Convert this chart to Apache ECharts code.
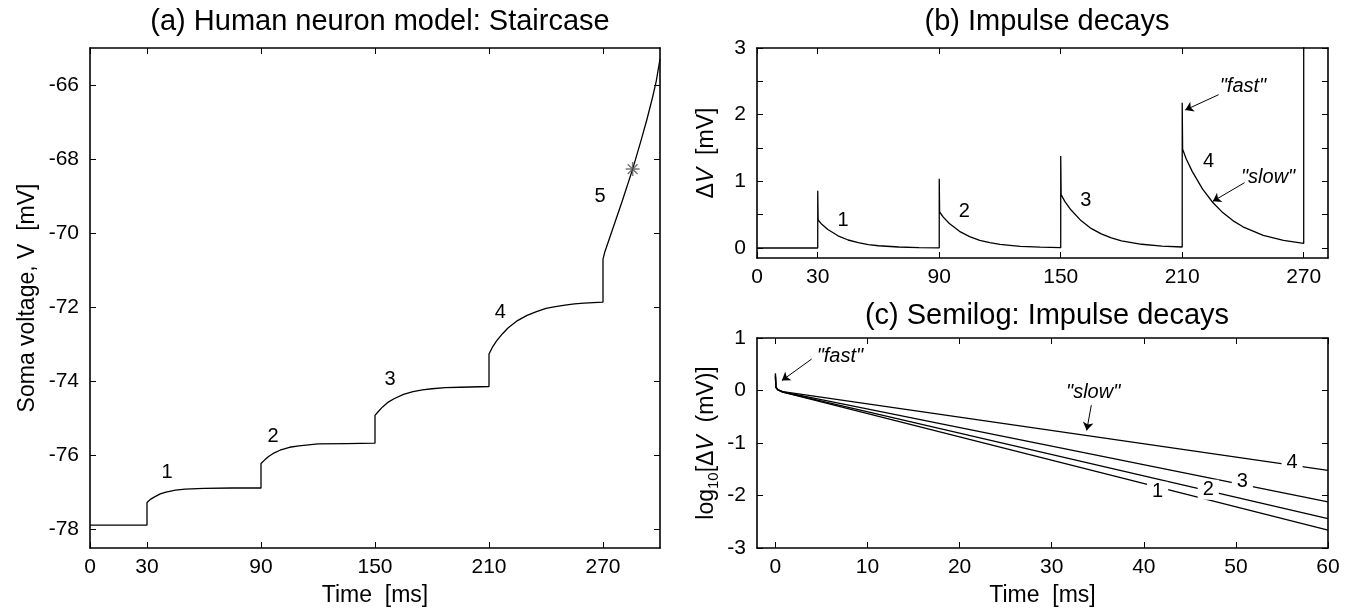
<!DOCTYPE html>
<html>
<head>
<meta charset="utf-8">
<title>Staircase and impulse decays</title>
<script src="https://cdn.jsdelivr.net/npm/echarts@6/dist/echarts.min.js"></script>
<style>
html, body { margin: 0; padding: 0; background: #fff; }
#chart { width: 1349px; height: 612px; }
</style>
</head>
<body>
<div id="chart"></div>
<script>
// (a) staircase: time [ms] / soma voltage [mV]
const stairT = [0, 30,
  30, 32, 34, 37, 40, 45, 50, 60, 75, 90,
  90, 92, 94, 97, 100, 105, 110, 120, 135, 150,
  150, 152, 154, 157, 160, 165, 170, 175, 180, 187, 195, 210,
  210, 212, 214, 217, 220, 225, 230, 235, 240, 245, 250, 255, 260, 270,
  270, 271, 275, 280, 285.6, 290, 293, 296, 298, 300]
const stairV = [-77.88, -77.88,
  -77.27, -77.18, -77.12, -77.04, -76.99, -76.94, -76.91, -76.89, -76.88, -76.88,
  -76.22, -76.12, -76.03, -75.93, -75.86, -75.78, -75.74, -75.69, -75.68, -75.67,
  -74.92, -74.80, -74.69, -74.56, -74.47, -74.35, -74.28, -74.23, -74.20, -74.17, -74.16, -74.14,
  -73.26, -73.06, -72.91, -72.72, -72.56, -72.36, -72.22, -72.12, -72.03, -71.98, -71.94, -71.91, -71.89, -71.86,
  -70.70, -70.50, -69.90, -69.15, -68.27, -67.50, -66.95, -66.35, -65.90, -65.30]
const starPoint = [285.6, -68.27]
const stairLabels = [[40.6, -76.45, '1'], [96.4, -75.48, '2'], [157.9, -73.94, '3'], [216, -72.14, '4'], [268.4, -69.0, '5']]
const stairTicksX = [0, 30, 90, 150, 210, 270]
const stairTicksY = [-78, -76, -74, -72, -70, -68, -66]

// (b) impulse decays: time [ms] / delta V [mV]
const decayT = [0, 30, 30, 30.2, 32, 35, 40, 45, 50, 55, 60, 70, 80, 90,
  90, 90.2, 92, 95, 100, 105, 110, 115, 120, 130, 140, 150,
  150, 150.2, 152, 155, 160, 165, 170, 175, 180, 190, 200, 210,
  210, 210.2, 212, 215, 220, 225, 230, 235, 240, 250, 260, 270, 270]
const decayV = [0, 0, 0.86, 0.42, 0.355, 0.277, 0.183, 0.120, 0.079, 0.052, 0.034, 0.015, 0.007, 0.003,
  1.04, 0.54, 0.463, 0.368, 0.250, 0.170, 0.116, 0.079, 0.054, 0.025, 0.012, 0.005,
  1.38, 0.80, 0.700, 0.573, 0.411, 0.294, 0.211, 0.151, 0.108, 0.056, 0.029, 0.015,
  2.18, 1.48, 1.336, 1.146, 0.886, 0.686, 0.531, 0.411, 0.318, 0.190, 0.114, 0.068, 3.5]
const decayLabels = [[42.5, 0.42, '1'], [102.4, 0.555, '2'], [162.4, 0.72, '3'], [223, 1.30, '4']]
const decayNotes = [[240, 2.43, '"fast"'], [252.4, 1.06, '"slow"']]
const decayArrows = [[228, 2.30, 211.5, 2.07], [240.8, 0.98, 225.1, 0.70]]
const decayTicksX = [0, 30, 90, 150, 210, 270]
const decayTicksY = [0, 0.5, 1, 1.5, 2, 2.5, 3]
const decayLabelsY = [0, 1, 2, 3]

// (c) semilog decays: time [ms] / log10 delta V
const semiT = [0, 0.05, 0.3, 0.8, 60]
const semi1 = [0.31, 0.06, 0.01, -0.03, -2.66]
const semi2 = [0.28, 0.06, 0.01, -0.03, -2.44]
const semi3 = [0.25, 0.06, 0.01, -0.025, -2.12]
const semi4 = [0.33, 0.06, 0.01, -0.02, -1.52]
const semiLabels = [[41.5, -1.93, '1'], [47, -1.89, '2'], [50.7, -1.73, '3'], [56.1, -1.38, '4']]
const semiNotes = [[7.0, 0.64, '"fast"'], [34.5, -0.03, '"slow"']]
const semiArrows = [[4.1, 0.62, 0.7, 0.19], [34.3, -0.28, 33.8, -0.76]]
const semiTicksX = [0, 10, 20, 30, 40, 50, 60]
const semiTicksY = [-3, -2, -1, 0, 1]

const font = "'Liberation Sans', Arial, Helvetica, sans-serif"

function boxAxes(grid, pos, min, max, ticks, labels, name, nameGap) {
  const other = { bottom: 'top', left: 'right' }[pos]
  const base = {
    gridIndex: grid, type: 'value', min: min, max: max,
    axisLine: { show: true, onZero: false, lineStyle: { color: '#000', width: 1.6 } },
    axisTick: { show: true, inside: true, length: 6, customValues: ticks, lineStyle: { color: '#000', width: 1 } },
    splitLine: { show: false }
  }
  const main = Object.assign({}, base, {
    position: pos,
    axisLabel: { show: true, customValues: labels, margin: pos === 'bottom' ? 9 : 11, color: '#000', fontSize: 21, fontFamily: font },
    name: name, nameLocation: 'middle', nameGap: nameGap,
    nameRotate: pos === 'left' ? 90 : 0,
    nameTextStyle: { color: '#000', fontSize: 23, fontFamily: font, rich: {
      n: { fontSize: 23, fontFamily: font, lineHeight: 28, color: '#000' },
      i: { fontSize: 23, fontFamily: font, fontStyle: 'italic', lineHeight: 28, color: '#000' },
      s: { fontSize: 15, fontFamily: font, lineHeight: 15, verticalAlign: 'bottom', color: '#000' }
    } }
  })
  const mirror = Object.assign({}, base, { position: other, axisLabel: { show: false } })
  return [main, mirror]
}

function pairs(xs, ys) { return xs.map((x, i) => [x, ys[i]]) }

function curve(xi, yi, data) {
  return { type: 'line', xAxisIndex: xi, yAxisIndex: yi, data: data, showSymbol: false, symbol: 'none',
    lineStyle: { color: '#000', width: 1.3 }, silent: true, animation: false }
}

function textMarks(xi, yi, labels, notes, arrows, boxed) {
  const data = labels.map(l => ({ value: l }))
    .concat(notes.map(n => ({ value: n, label: { fontStyle: 'italic', fontSize: 20 } })))
  return {
    type: 'scatter', xAxisIndex: xi, yAxisIndex: yi, z: 10, symbolSize: 2, silent: true, animation: false,
    itemStyle: { color: '#000', opacity: 0 },
    label: { show: true, position: [1, 1], align: 'center', verticalAlign: 'middle',
      formatter: p => p.value[2], color: '#000', opacity: 1, fontSize: 20, fontFamily: font,
      backgroundColor: boxed ? '#fff' : 'transparent', padding: boxed ? [0, 5] : 0 },
    data: data,
    markLine: arrows.length ? {
      silent: true, symbol: ['none', 'arrow'], symbolSize: 8, animation: false,
      lineStyle: { color: '#000', width: 1, type: 'solid', opacity: 1 }, label: { show: false },
      data: arrows.map(a => [{ coord: [a[0], a[1]] }, { coord: [a[2], a[3]] }])
    } : undefined
  }
}

const xa = boxAxes(0, 'bottom', 0, 300, stairTicksX, stairTicksX, 'Time  [ms]', 36)
const ya = boxAxes(0, 'left', -78.5, -65, stairTicksY, stairTicksY, 'Soma voltage, V  [mV]', 51)
const xb = boxAxes(1, 'bottom', 0, 282, decayTicksX, decayTicksX, '', 30)
const yb = boxAxes(1, 'left', -0.15, 3, decayTicksY, decayLabelsY, '{n|Δ}{i|V}{n|  [mV]}', 36)
const xc = boxAxes(2, 'bottom', -2, 60, semiTicksX, semiTicksX, 'Time  [ms]', 36)
const yc = boxAxes(2, 'left', -3, 1, semiTicksY, semiTicksY, '{n|log}{s|10}{n|[Δ}{i|V}{n|  (mV)]}', 36)

const chart = echarts.init(document.getElementById('chart'), null, { renderer: 'canvas' })
chart.setOption({
  animation: false,
  backgroundColor: '#fff',
  title: [
    { text: '(a) Human neuron model: Staircase', left: 375, top: 2, textAlign: 'center',
      textStyle: { fontSize: 29, fontWeight: 'normal', color: '#000', fontFamily: font } },
    { text: '(b) Impulse decays', left: 1042, top: 2, textAlign: 'center',
      textStyle: { fontSize: 29, fontWeight: 'normal', color: '#000', fontFamily: font } },
    { text: '(c) Semilog: Impulse decays', left: 1042, top: 296, textAlign: 'center',
      textStyle: { fontSize: 29, fontWeight: 'normal', color: '#000', fontFamily: font } }
  ],
  grid: [
    { left: 90, top: 48, width: 570, height: 500 },
    { left: 757, top: 48, width: 571, height: 210 },
    { left: 757, top: 338, width: 571, height: 210 }
  ],
  xAxis: xa.concat(xb, xc),
  yAxis: ya.concat(yb, yc),
  series: [
    curve(0, 0, pairs(stairT, stairV)),
    {
      type: 'scatter', xAxisIndex: 0, yAxisIndex: 0, z: 5, silent: true, animation: false,
      symbol: 'path://M5,0L5,10M0,5L10,5M1.5,1.5L8.5,8.5M1.5,8.5L8.5,1.5', symbolSize: 14,
      itemStyle: { color: 'none', borderColor: '#555', borderWidth: 1.5 },
      data: [starPoint]
    },
    textMarks(0, 0, stairLabels, [], [], false),
    curve(2, 2, pairs(decayT, decayV)),
    textMarks(2, 2, decayLabels, decayNotes, decayArrows, false),
    curve(4, 4, pairs(semiT, semi1)),
    curve(4, 4, pairs(semiT, semi2)),
    curve(4, 4, pairs(semiT, semi3)),
    curve(4, 4, pairs(semiT, semi4)),
    textMarks(4, 4, semiLabels, semiNotes, semiArrows, true)
  ]
})
</script>
</body>
</html>
